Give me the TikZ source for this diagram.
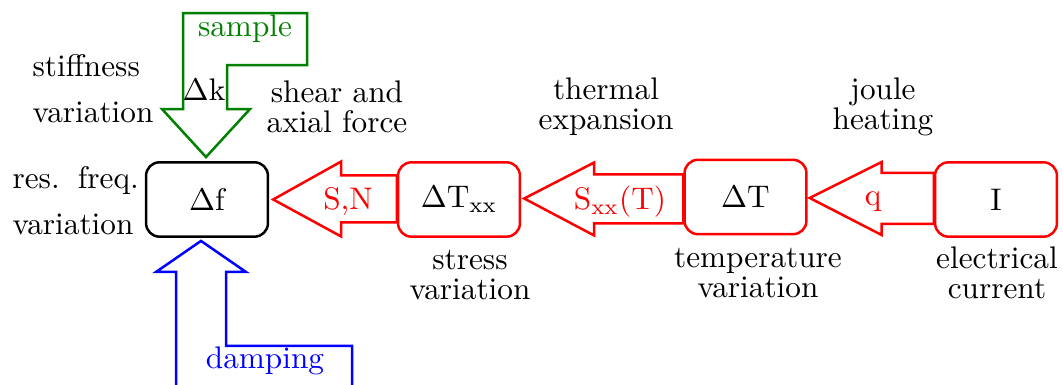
\documentclass[tikz,border=0pt]{standalone}
\usetikzlibrary{calc}
\definecolor{dgreen}{rgb}{0,0.5,0}
\begin{document}
\begin{tikzpicture}[x=0.32pt,y=-0.32pt,
  box/.style={draw,rounded corners=4.3pt,minimum width=39pt,minimum height=23.8pt,line width=0.8pt,inner sep=0pt},
  rbox/.style={box,draw=red,text=black},
  barrow/.style={line width=0.8pt,line join=miter},
  lbl/.style={align=center,font=\fontsize{10pt}{9.6pt}\selectfont,inner sep=0pt},
  llbl/.style={align=left,inner sep=0pt,anchor=west}]
\useasboundingbox (0,0) rectangle (1063,385);

% boxes
\node[box]  (f)   at (207,199.5) {$\Delta$f};
\node[rbox] (txx) at (459,199.5) {$\Delta$T$_{\mathrm{xx}}$};
\node[rbox] (dt)  at (745.5,197) {$\Delta$T};
\node[rbox] (cur) at (996,199.5) {I};

% red block arrows
\draw[barrow,red] ($(f.east)+(4,0)$) -- ++(68,-38) -- ++(0,14) coordinate (u1)
  -- (u1 -| txx.west) -- ++(0,47) coordinate (b1) -- (u1 |- b1) -- ++(0,14) -- cycle;
\draw[barrow,red] ($(txx.east)+(3,-1)$) -- ++(70,-36) -- ++(0,12) coordinate (u2)
  -- (u2 -| dt.west) -- ++(0,49) coordinate (b2) -- (u2 |- b2) -- ++(0,12) -- cycle;
\draw[barrow,red] ($(dt.east)+(2,1)$) -- ++(72,-36) -- ++(0,11) coordinate (u3)
  -- (u3 -| cur.west) -- ++(0,51) coordinate (b3) -- (u3 |- b3) -- ++(0,11) -- cycle;
\node[red] (sn) at (348,202) {S,N};
\node[red] (sxx) at (620,202) {S$_{\mathrm{xx}}$(T)};
\node[red] (q) at (873,202) {q};

% green arrow
\draw[barrow,dgreen] ($(f.north)+(-1,-4)$) -- ++(-44,-48) -- ++(21,0) -- ++(0,-96)
  -- ++(124,0) -- ++(0,52) -- ++(-80,0) -- ++(0,44) -- ++(23,0) -- cycle;
\node[dgreen] (smp) at (245,29) {sample};
\node (dk) at (204,90) {$\Delta$k};

% blue arrow
\coordinate (bl) at (176,385);
\coordinate (br) at (352,385);
\draw[barrow,blue] (bl) -- (176,272) -- (156,272) -- ($(f.south)+(-6,3)$)
  -- (246,272) -- (226,272) -- (226,346) -- (352,346) -- (br);
\node[blue] (dmp) at (265,361) {damping};

% labels
\node[llbl,font=\fontsize{10pt}{14.7pt}\selectfont] (stf) at (32,89) {stiffness\\variation};
\node[llbl,font=\fontsize{10pt}{14.7pt}\selectfont] (rfv) at (12,201) {res.\hspace{5.8pt}freq.\\variation};
\node[lbl] (saf) at (337,107) {shear and\\axial force};
\node[lbl] (tex) at (606,107) {thermal\\expansion};
\node[lbl] (jh)  at (883,107) {joule\\heating};
\node[lbl] (sv)  at (470,275) {stress\\variation};
\node[lbl] (tv)  at (758,273) {temperature\\variation};
\node[lbl] (ec)  at (997,273) {electrical\\current};
\end{tikzpicture}
\end{document}
